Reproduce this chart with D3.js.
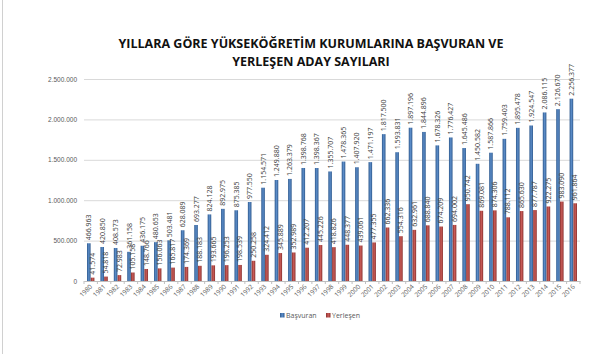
<!DOCTYPE html>
<html>
<head>
<meta charset="utf-8">
<script src="https://cdn.jsdelivr.net/npm/d3@7"></script>
<style>
  body { margin: 0; background: #fff; }
  svg { display: block; font-family: "Open Sans", sans-serif; }
</style>
</head>
<body>
<svg id="chart" width="600" height="354"></svg>
<script>
// chart data
const years = ["1980","1981","1982","1983","1984","1985","1986","1987","1988","1989",
  "1990","1991","1992","1993","1994","1995","1996","1997","1998","1999",
  "2000","2001","2002","2003","2004","2005","2006","2007","2008","2009",
  "2010","2011","2012","2013","2014","2015","2016"];

const basvuran = [466963, 420850, 408573, 361158, 436175, 480653, 503481, 628089, 693277, 824128,
  892975, 875385, 977550, 1154571, 1249880, 1263379, 1398768, 1398367, 1355707, 1478365,
  1407920, 1471197, 1817500, 1593831, 1897196, 1844896, 1678326, 1776427, 1645486, 1450582,
  1587866, 1759403, 1895478, 1924547, 2086115, 2126670, 2256377];

const yerlesen = [41574, 54818, 72983, 105158, 148766, 156063, 165817, 174369, 188183, 193665,
  196253, 198539, 250258, 324412, 345889, 352989, 412207, 445226, 418826, 448377,
  439061, 477355, 662336, 554316, 632961, 688840, 674209, 694002, 950742, 869081,
  874306, 788112, 865630, 877787, 922275, 983090, 961864];

const yTicks = [0, 500000, 1000000, 1500000, 2000000, 2500000];
const seriesNames = ["Başvuran", "Yerleşen"];

const margin = { top: 79, right: 20, bottom: 73, left: 84 };
const width = 600 - margin.left - margin.right;
const height = 354 - margin.top - margin.bottom;

const fmt = v => d3.format(",")(v).replace(/,/g, ".");

const svg = d3.select("#chart");

// gradients for the bars
const defs = svg.append("defs");
function grad(id, edge, mid) {
  const g = defs.append("linearGradient").attr("id", id)
    .attr("x1", "0").attr("x2", "1").attr("y1", "0").attr("y2", "0");
  g.append("stop").attr("offset", "0%").attr("stop-color", edge);
  g.append("stop").attr("offset", "50%").attr("stop-color", mid);
  g.append("stop").attr("offset", "100%").attr("stop-color", edge);
}
grad("gBlue", "#2f5a8e", "#5b8cc8");
grad("gRed", "#8a302e", "#c95c58");

// light frame line at the left
svg.append("line").attr("x1", 2.5).attr("x2", 2.5).attr("y1", 0).attr("y2", 354)
  .attr("stroke", "#d0d0d0");

// title
svg.append("text").attr("x", 311).attr("y", 48).attr("text-anchor", "middle")
  .attr("font-size", 12.5).attr("font-weight", "bold").attr("fill", "#111")
  .text("YILLARA GÖRE YÜKSEKÖĞRETİM KURUMLARINA BAŞVURAN VE");
svg.append("text").attr("x", 311).attr("y", 66).attr("text-anchor", "middle")
  .attr("font-size", 12.5).attr("font-weight", "bold").attr("fill", "#111")
  .text("YERLEŞEN ADAY SAYILARI");

const g = svg.append("g").attr("transform", `translate(${margin.left},${margin.top})`);

const x = d3.scaleBand().domain(years).range([0, width]);
const y = d3.scaleLinear().domain([0, 2500000]).range([height, 0]);

// gridlines
g.append("g")
  .call(d3.axisLeft(y).tickValues(yTicks).tickSize(-width).tickFormat(fmt))
  .call(a => a.select(".domain").remove())
  .call(a => a.selectAll(".tick line").attr("stroke", "#d9d9d9"))
  .call(a => a.selectAll(".tick text").attr("x", -7).attr("fill", "#595959")
    .attr("font-size", 6.5));

// bars
const bw = 3.6;
const cx = d => x(d) + x.bandwidth() / 2;

g.selectAll(".bar-b").data(years).enter().append("rect")
  .attr("x", (d) => cx(d) - bw - 0.1)
  .attr("y", (d, i) => y(basvuran[i]))
  .attr("width", bw)
  .attr("height", (d, i) => height - y(basvuran[i]))
  .attr("fill", "url(#gBlue)");

g.selectAll(".bar-r").data(years).enter().append("rect")
  .attr("x", (d) => cx(d) + 0.1)
  .attr("y", (d, i) => y(yerlesen[i]))
  .attr("width", bw)
  .attr("height", (d, i) => height - y(yerlesen[i]))
  .attr("fill", "url(#gRed)");

// x axis
g.append("g").attr("transform", `translate(0,${height})`)
  .call(d3.axisBottom(x).tickSize(0).tickFormat(""))
  .call(a => a.select(".domain").attr("stroke", "#bfbfbf"));

g.selectAll(".xtick").data(years.concat(["end"])).enter().append("line")
  .attr("x1", (d, i) => i * x.step()).attr("x2", (d, i) => i * x.step())
  .attr("y1", height).attr("y2", height + 3)
  .attr("stroke", "#bfbfbf");

g.selectAll(".xlab").data(years).enter().append("text")
  .attr("transform", d => `translate(${cx(d) + 2},${height + 6}) rotate(-45)`)
  .attr("text-anchor", "end")
  .attr("font-size", 6.5)
  .attr("fill", "#595959")
  .text(d => d);

// value labels
function labels(vals, dx) {
  g.selectAll(null).data(years).enter().append("text")
    .attr("transform", (d, i) => `translate(${cx(d) + dx},${y(vals[i]) - 3}) rotate(-90)`)
    .attr("text-anchor", "start")
    .attr("font-size", 7)
    .attr("fill", "#404040")
    .text((d, i) => fmt(vals[i]));
}
labels(basvuran, -bw / 2 + 2.4);
labels(yerlesen, bw / 2 + 2.4);

// legend
const legend = svg.append("g").attr("transform", "translate(280,313)");
const colors = ["url(#gBlue)", "url(#gRed)"];
seriesNames.forEach((name, i) => {
  const lx = i * 46;
  legend.append("rect").attr("x", lx).attr("y", 0).attr("width", 4.5).attr("height", 4.5)
    .attr("fill", colors[i]);
  legend.append("text").attr("x", lx + 6).attr("y", 5).attr("font-size", 7)
    .attr("fill", "#595959").text(name);
});
</script>
</body>
</html>
